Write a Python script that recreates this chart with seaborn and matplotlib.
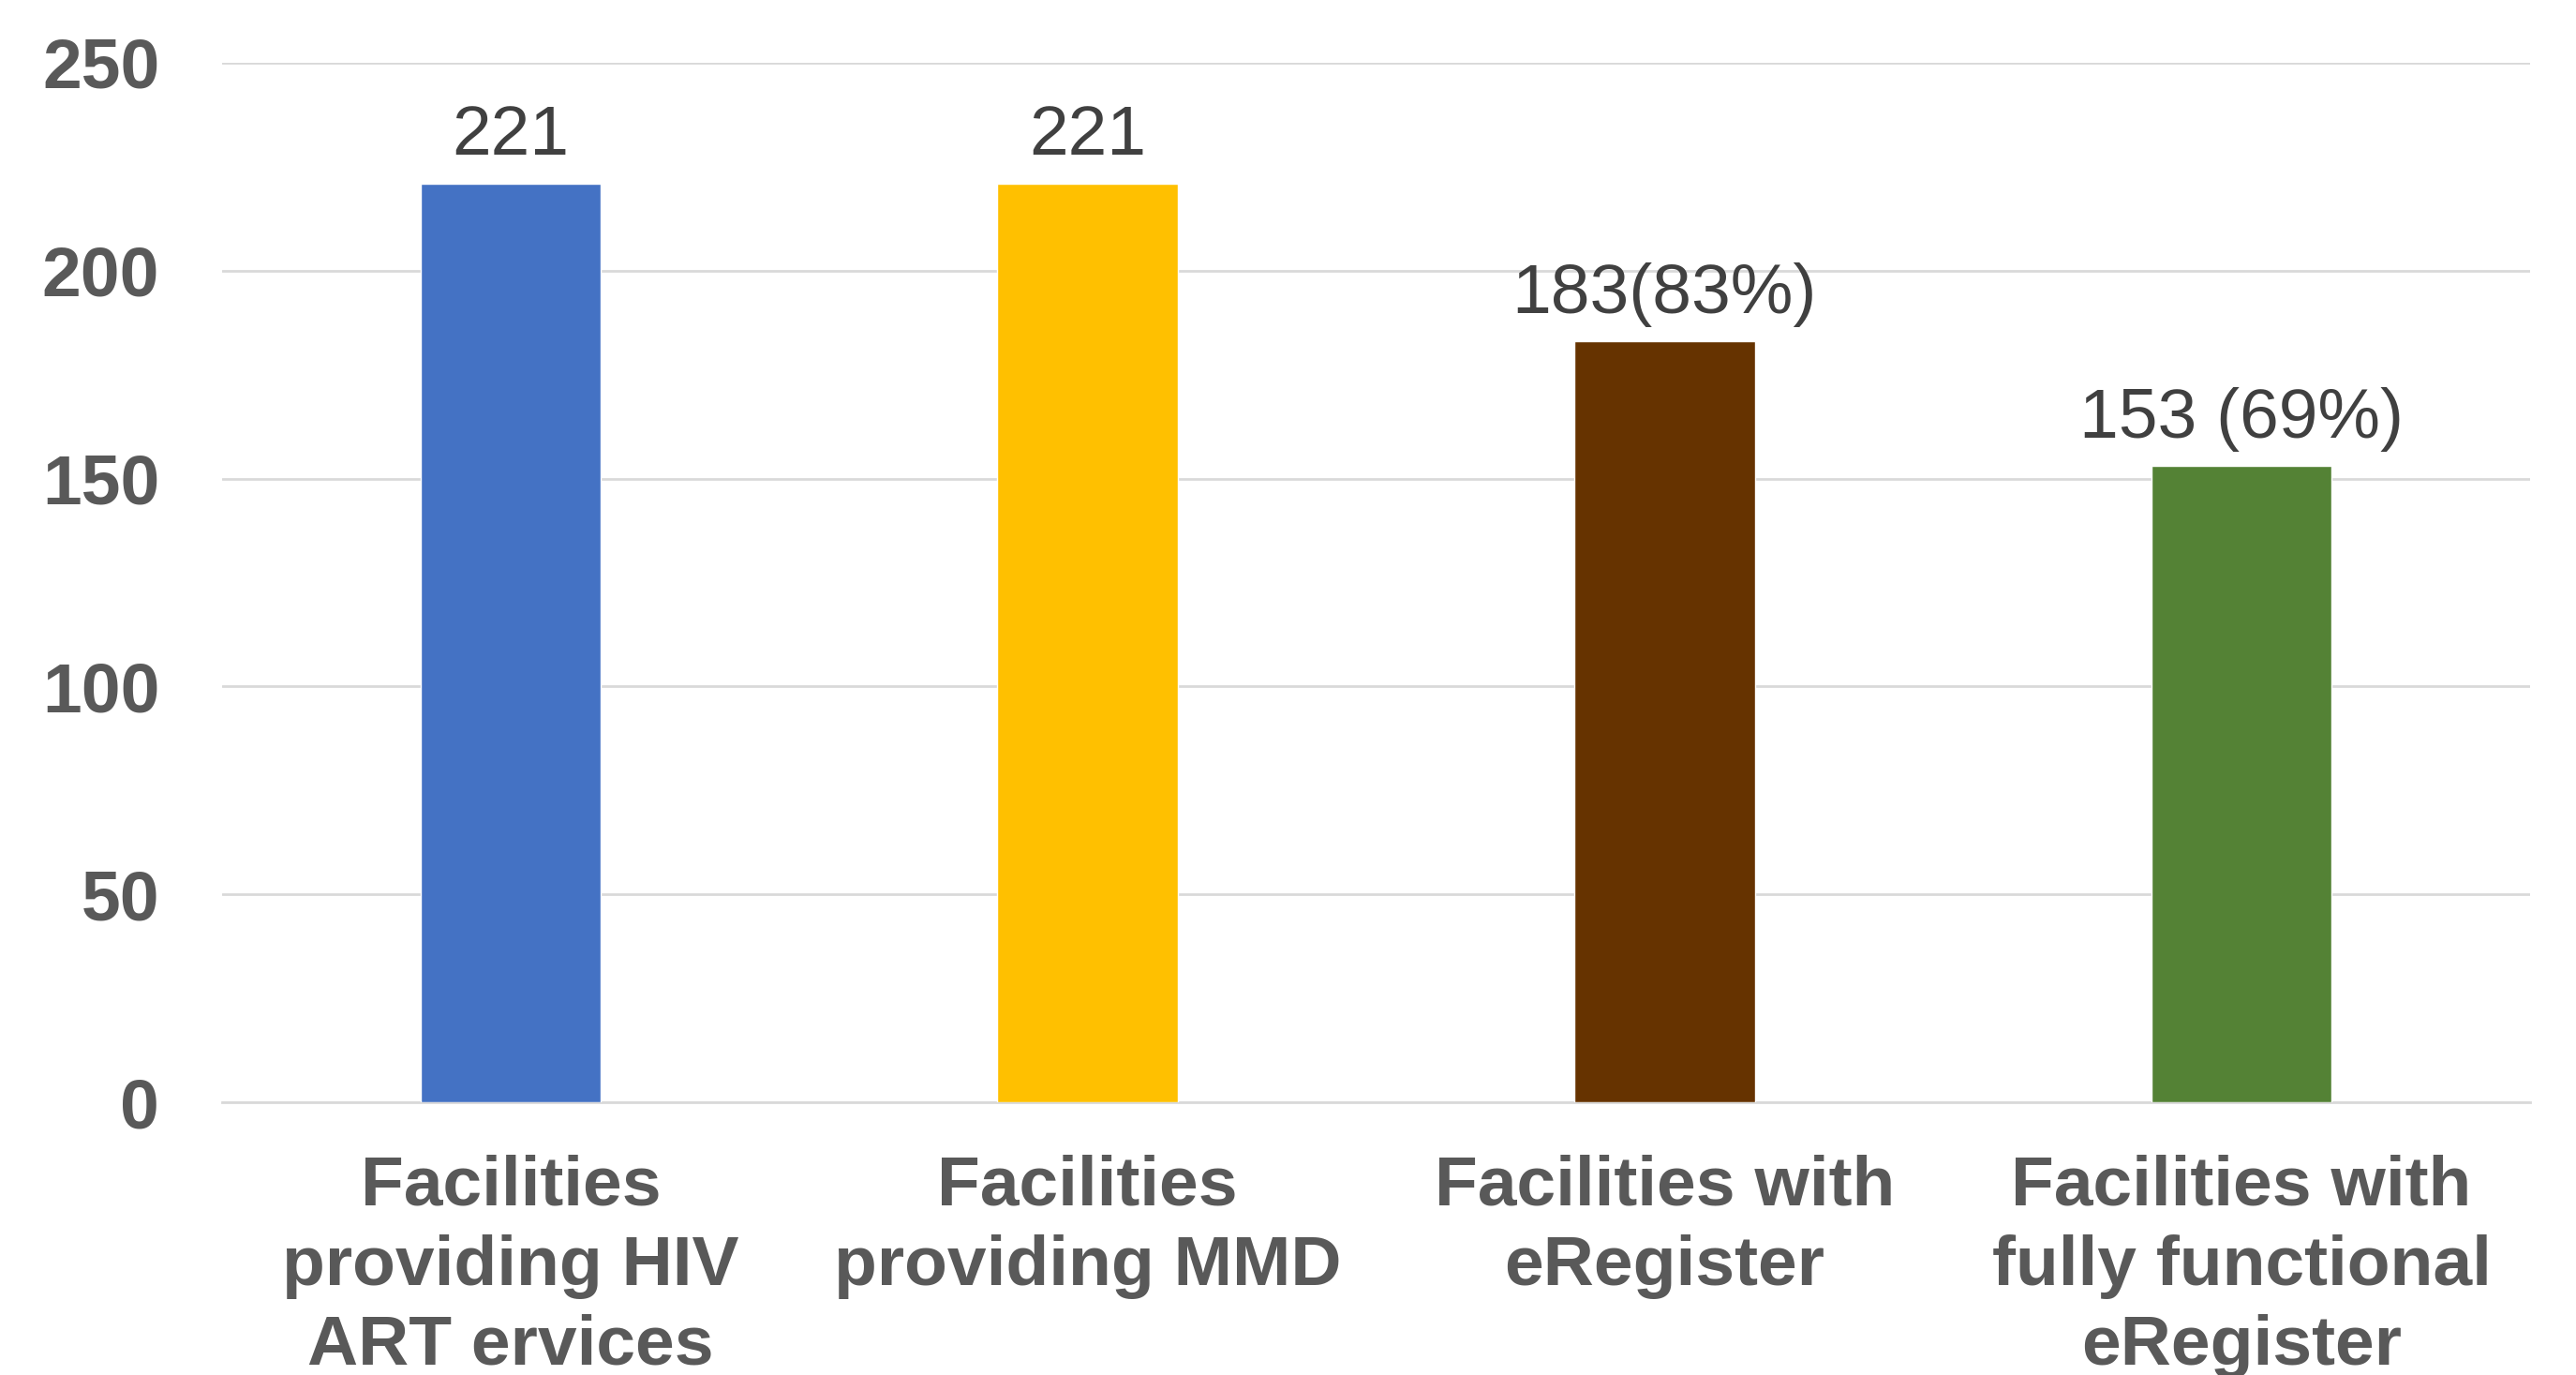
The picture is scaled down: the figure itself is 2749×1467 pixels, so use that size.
import pandas as pd
import matplotlib.pyplot as plt
import seaborn as sns

# Data
categories = ["Facilities\nproviding HIV\nART ervices",
              "Facilities\nproviding MMD",
              "Facilities with\neRegister",
              "Facilities with\nfully functional\neRegister"]
values = [221, 221, 183, 153]
bar_labels = ["221", "221", "183(83%)", "153 (69%)"]
colors = ["#4472C4", "#FFC000", "#663300", "#548235"]

df = pd.DataFrame({"Category": categories, "Count": values})

sns.set_style("white")
plt.rcParams["font.family"] = ["Liberation Sans", "DejaVu Sans"]

fig = plt.figure(figsize=(27.49, 14.67), dpi=100)
ax = fig.add_axes([237 / 2749, 1 - 1176 / 1467, (2700 - 237) / 2749, (1176 - 67) / 1467])

sns.barplot(data=df, x="Category", y="Count", hue="Category", palette=colors,
            width=0.313, legend=False, ax=ax, saturation=1, zorder=3)

# value labels above bars
for i, (v, lab) in enumerate(zip(values, bar_labels)):
    ax.annotate(lab, (i, v), xytext=(0, 11), textcoords="offset points",
                ha="center", va="bottom", fontsize=54, color="#404040")

ax.set_ylim(0, 250)
ax.set_xlim(-0.5, 3.5)
ax.set_yticks([0, 50, 100, 150, 200, 250])
ax.yaxis.grid(True, color="#D9D9D9", linewidth=2, zorder=0)
ax.set_axisbelow(True)
for s in ["top", "right", "left"]:
    ax.spines[s].set_visible(False)
ax.spines["bottom"].set_color("#D9D9D9")
ax.spines["bottom"].set_linewidth(2)

ax.set_xlabel("")
ax.set_ylabel("")
ax.tick_params(axis="y", length=0, pad=48, labelsize=54, labelcolor="#595959")
ax.tick_params(axis="x", length=0, pad=40, labelsize=54, labelcolor="#595959")
for t in ax.get_yticklabels() + ax.get_xticklabels():
    t.set_fontweight("bold")
for t in ax.get_xticklabels():
    t.set_linespacing(1.3)
    t.set_va("top")

fig.savefig("out.png", dpi=100)
